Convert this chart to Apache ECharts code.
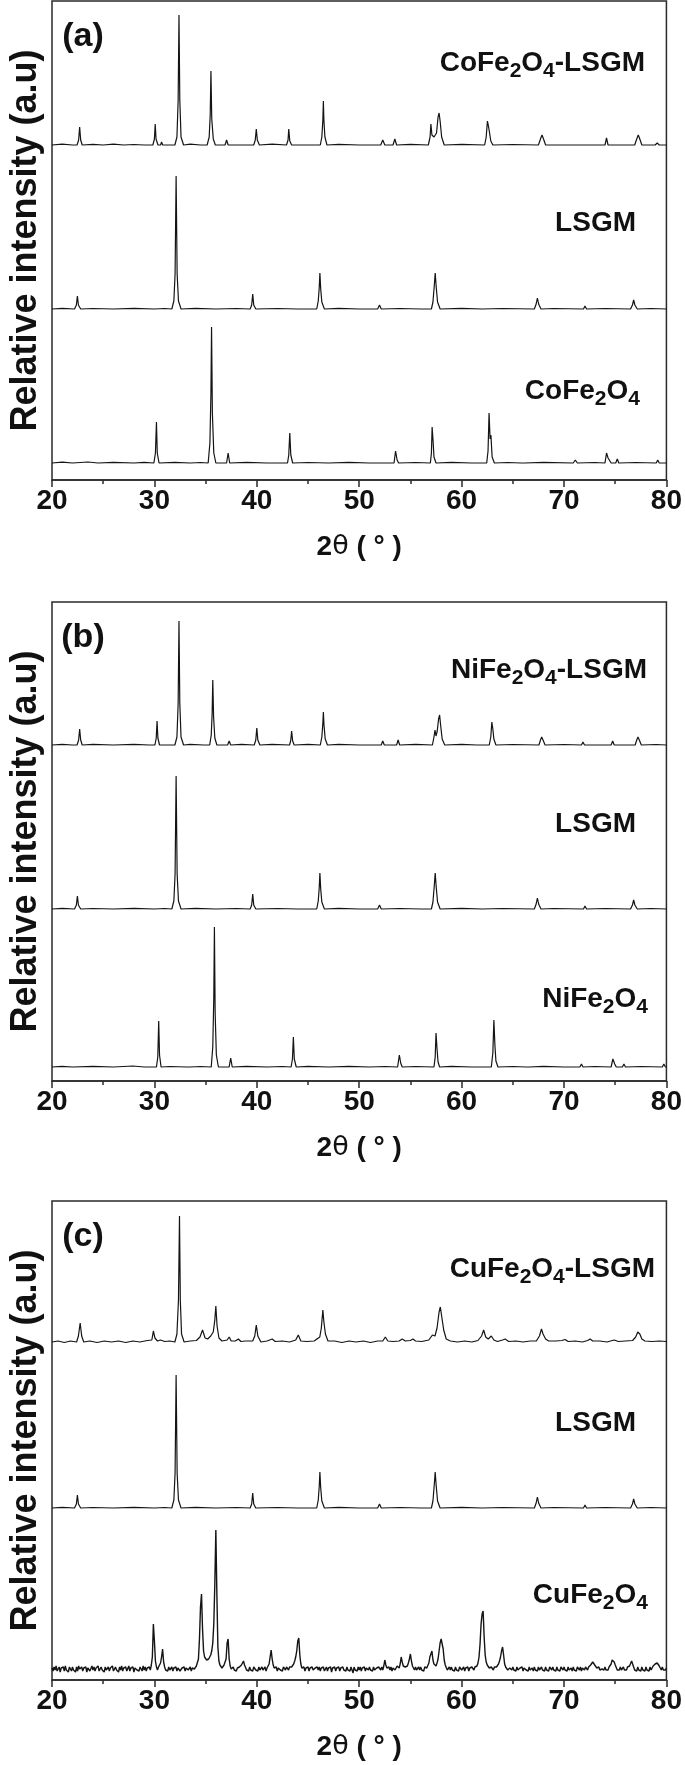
<!DOCTYPE html>
<html>
<head>
<meta charset="utf-8">
<script src="https://cdn.jsdelivr.net/npm/echarts@6/dist/echarts.min.js"></script>
<style>
html,body{margin:0;padding:0;background:#fff;}
#chart{width:685px;height:1765px;}
</style>
</head>
<body>
<div id="chart"></div>
<script>
// ---------- DATA (2θ in degrees, intensity in a.u. above each trace's own baseline) ----------
const xTicks = [20, 30, 40, 50, 60, 70, 80];
const panelTags = ['(a)', '(b)', '(c)'];

const CoFe2O4_LSGM = [
[20,0],[21,0.8],[22,0],[22.45,0],[22.6,5],[22.7,18],[22.8,5],[22.95,0],
[24,0.6],[25,0],[26,0.8],[27,0],[28,0.5],[29,0],
[29.85,0],[30.0,6],[30.08,21],[30.16,6],[30.35,0],
[30.6,0],[30.7,3],[30.8,0],
[32.0,0],[32.2,8],[32.32,45],[32.4,130],[32.48,45],[32.6,8],[32.85,0],
[33.5,0.8],[34.5,0],
[35.15,0],[35.35,8],[35.45,30],[35.52,74],[35.6,26],[35.75,6],[35.95,0],
[36.9,0],[37.05,5],[37.2,0],
[37.8,0],[37.9,2],[38.0,0],
[39.7,0],[39.85,5],[39.95,16],[40.05,5],[40.25,0],
[41.5,0.8],
[42.9,0],[43.05,5],[43.12,16],[43.22,4],[43.4,0],
[46.2,0],[46.35,8],[46.45,25],[46.5,44],[46.55,25],[46.65,8],[46.85,0],
[48,0.6],[50,0],
[52.1,0],[52.3,5],[52.5,0],
[53.3,0],[53.48,6],[53.65,0],
[55,0.6],
[56.75,0],[56.92,8],[57.0,21],[57.1,10],[57.3,8],[57.55,12],[57.7,28],[57.8,32],[57.9,24],[58.05,8],[58.3,0],
[60,0.6],
[62.25,0],[62.4,8],[62.52,24],[62.6,20],[62.7,14],[62.85,4],[63.05,0],
[65,0.5],
[67.5,0],[67.7,6],[67.85,10],[68.0,6],[68.2,0],
[70.8,0],[70.9,1.5],[71.0,0],
[72.5,0],[72.6,2],[72.75,0],
[74.0,0],[74.15,7],[74.3,0],
[74.9,0],[75.05,2],[75.2,0],
[76.9,0],[77.1,6],[77.25,10],[77.4,6],[77.6,0],
[78.9,0],[79.1,2],[79.3,0],[80,0]
];

const LSGM = [
[20,0],[21,0.6],[22.2,0],[22.38,4],[22.48,13],[22.58,4],[22.8,0],
[24,0.5],[26,0],[28,0.6],[30,0],[31,0.5],
[31.7,0],[31.9,8],[32.02,35],[32.12,133],[32.22,35],[32.35,8],[32.6,0],
[34,0.6],[36,0],[38,0.5],
[39.35,0],[39.5,4],[39.6,15],[39.7,4],[39.9,0],
[42,0.5],[44,0],
[45.85,0],[46.0,8],[46.1,22],[46.16,36],[46.24,20],[46.35,7],[46.6,0],
[48,0.6],[50,0],
[51.8,0],[51.98,4],[52.15,0],
[54,0.5],[56,0],
[57.05,0],[57.2,7],[57.32,22],[57.42,36],[57.52,22],[57.65,7],[57.9,0],
[60,0.6],[62,0],[64,0.5],
[67.1,0],[67.28,5],[67.4,11],[67.52,5],[67.75,0],
[69,0.5],
[71.9,0],[72.05,3],[72.2,0],
[74,0.5],
[76.5,0],[76.68,4],[76.8,9],[76.92,4],[77.15,0],
[78.5,0.5],[80,0]
];

const CoFe2O4 = [
[20,0],[21,0.8],[22,0],[23.5,1],[24.5,0],[26,0.7],[28,0],[29,0.6],
[29.95,0],[30.1,10],[30.2,41],[30.28,10],[30.45,0],
[32,0.6],[33.5,0],[34.5,0.5],
[35.25,0],[35.42,20],[35.52,70],[35.58,136],[35.66,50],[35.8,10],[36.0,0],
[37.05,0],[37.2,10],[37.35,0],
[39,0.6],[41,0],
[43.0,0],[43.12,8],[43.22,30],[43.32,8],[43.5,0],
[45,0.5],[47,0],[49,0.7],[51,0],
[53.4,0],[53.55,12],[53.7,3],[53.85,0],
[55.5,0.5],
[56.95,0],[57.05,10],[57.12,36],[57.22,21],[57.3,6],[57.5,0],
[59,0.6],[61,0],
[62.45,0],[62.58,12],[62.68,50],[62.78,24],[62.86,28],[62.98,6],[63.2,0],
[64.5,0.5],
[65.8,0],[65.95,2],[66.1,0],
[68,0.6],
[70.9,0],[71.1,3],[71.3,0],
[73,0.5],
[74.0,0],[74.15,10],[74.3,5],[74.42,6],[74.6,0],
[75.05,0],[75.2,4],[75.35,0],
[77,0.5],
[79.0,0],[79.15,3],[79.3,0],[80,0]
];

const NiFe2O4_LSGM = [
[20,0],[21,0.7],[22,0],[22.45,0],[22.6,5],[22.7,16],[22.8,5],[22.95,0],
[24,0.6],[26,0],[28,0.6],[29.5,0],
[30.05,0],[30.18,7],[30.26,24],[30.34,7],[30.5,0],
[32.0,0],[32.2,8],[32.32,42],[32.4,124],[32.48,42],[32.6,8],[32.85,0],
[33.5,0.7],[34.8,0],
[35.4,0],[35.55,10],[35.64,32],[35.7,65],[35.78,28],[35.9,7],[36.1,0],
[37.15,0],[37.3,4],[37.45,0],
[38.5,0.6],
[39.75,0],[39.9,5],[40.0,17],[40.1,5],[40.3,0],
[41.5,0.6],
[43.2,0],[43.32,5],[43.4,14],[43.5,4],[43.65,0],
[45,0.6],
[46.2,0],[46.35,8],[46.45,22],[46.5,33],[46.56,20],[46.68,6],[46.9,0],
[48,0.6],[50,0],
[52.15,0],[52.3,4],[52.45,0],
[53.65,0],[53.8,5],[53.95,0],
[55.5,0.6],
[57.15,0],[57.3,8],[57.4,15],[57.5,9],[57.62,14],[57.75,26],[57.85,30],[57.95,20],[58.1,6],[58.35,0],
[60,0.6],[61.5,0],
[62.7,0],[62.85,8],[62.95,23],[63.05,16],[63.15,6],[63.35,0],
[65,0.5],
[67.55,0],[67.7,5],[67.82,8],[67.95,5],[68.15,0],
[70,0.5],
[71.7,0],[71.85,3],[72.0,0],
[72.3,0],[72.45,2],[72.6,0],
[74.6,0],[74.75,4],[74.9,0],
[75.4,0],[75.55,2],[75.7,0],
[76.95,0],[77.1,5],[77.22,8],[77.35,5],[77.55,0],
[79,0.5],[80,0]
];

const NiFe2O4 = [
[20,0],[21,0.6],[22,0],[24,0.7],[26,0],[27.9,1],[29,0],
[30.2,0],[30.33,10],[30.42,46],[30.5,12],[30.65,0],
[31.5,0.5],
[33.15,0],[33.3,1.5],[33.45,0],
[34.5,0.5],
[35.55,0],[35.7,20],[35.8,70],[35.86,140],[35.93,55],[36.05,12],[36.25,0],
[37.3,0],[37.45,9],[37.6,0],
[39,0.6],[41,0],[42.5,0.5],
[43.35,0],[43.48,8],[43.57,30],[43.66,8],[43.85,0],
[45,0.6],[47,0],[49,0.7],[51,0],[52.5,0.5],
[53.75,0],[53.92,12],[54.05,4],[54.2,0],
[55.5,0.5],
[57.3,0],[57.42,10],[57.5,34],[57.6,18],[57.7,5],[57.85,0],
[59,0.6],[61,0],
[62.9,0],[63.05,14],[63.15,47],[63.25,22],[63.35,6],[63.55,0],
[65,0.5],
[66.3,0],[66.45,1],[66.6,0],
[68,0.6],[70,0],
[71.55,0],[71.7,3],[71.85,0],
[73,0.5],
[74.6,0],[74.77,8],[74.95,3],[75.1,0],
[75.7,0],[75.85,3],[76.0,0],
[77.5,0.5],
[79.6,0],[79.75,3],[79.9,0],[80,0]
];

const CuFe2O4_LSGM = [
[20,0],[20.6,1],[21.2,-0.5],[21.8,1],[22.4,0],[22.58,6],[22.75,19],[22.9,6],[23.1,0],
[23.7,1],[24.4,-0.5],[25.1,1],[25.8,0],[26.5,1],[27.2,-0.5],[27.9,1],[28.6,0],[29.3,1.5],
[29.75,2],[29.9,11],[30.05,4],[30.3,1],[30.6,2],[31.0,0.5],[31.5,1],
[32.0,0],[32.2,8],[32.35,42],[32.45,126],[32.53,42],[32.65,8],[32.9,0],
[33.5,1],[34.1,1.5],[34.45,5],[34.7,12],[34.95,4],[35.2,3],[35.5,6],[35.75,10],
[35.9,22],[36.0,36],[36.12,16],[36.3,4],[36.6,1],[37.1,2],[37.3,5],[37.5,1],[37.9,1],[38.2,3],[38.45,0.5],
[38.9,1],[39.6,1],[39.8,6],[39.95,17],[40.1,6],[40.4,0],
[41.0,1],[41.5,3],[41.8,0.5],[42.5,1],[43.2,0],[43.8,2],[44.05,7],[44.3,1],[44.9,0.5],
[45.6,1],[46.15,5],[46.3,14],[46.45,32],[46.55,20],[46.7,8],[46.95,1],
[47.6,1],[48.3,-0.5],[49.0,1],[49.7,0],[50.4,1],[51.1,-0.5],[51.8,1],[52.3,1],[52.55,5],[52.8,1],
[53.3,0.5],[53.9,1],[54.2,3],[54.5,1],[55.0,1.5],[55.25,3],[55.5,1],[56.1,0.5],
[56.8,2],[57.15,7],[57.4,6],[57.6,14],[57.8,30],[57.92,35],[58.05,26],[58.25,12],[58.5,3],[58.9,1],
[59.6,0],[60.3,1],[61.0,0],[61.6,1.5],[61.95,6],[62.15,12],[62.35,5],[62.6,3],[62.9,6],[63.15,2],[63.5,0.5],
[64.0,2],[64.25,3],[64.6,0.5],[65.3,1],[66.0,0],[66.7,1],
[67.3,1],[67.6,6],[67.8,13],[67.95,8],[68.2,3],[68.5,1],
[69.2,1],[69.8,1.5],[70.1,2.5],[70.4,0.5],[71.1,1],[71.8,0],[72.3,1.5],[72.55,3],[72.8,1],
[73.5,1],[74.2,0],[74.9,2],[75.3,0.5],[76.0,1],[76.7,1.5],
[77.0,5],[77.2,10],[77.4,8],[77.6,3],[77.9,1],[78.6,0.5],[79.3,1],[80,0.5]
];

// CuFe2O4: noisy scan, one value every 0.1° from 20.0° to 80.0° (one row per degree)
const CuFe2O4_start = 20, CuFe2O4_step = 0.1;
const CuFe2O4 = [
 1,-2, 2,-1, 3,-2, 0, 2,-3, 1,   // 20
-1, 2,-2, 3,-1, 1,-3, 2, 0,-2,   // 21
 2,-1, 1,-3, 2,-2, 3, 0,-1, 2,   // 22
-2, 1,-1, 2,-3, 1, 2,-2, 0, 3,   // 23
-1, 2,-2, 1,-1, 3,-2, 0, 2,-1,   // 24
 1,-3, 2,-1, 0, 2,-2, 1,-1, 3,   // 25
-2, 0, 2,-1, 1,-3, 2,-1, 3,-2,   // 26
 1,-1, 2,-2, 0, 3,-2, 1,-1, 2,   // 27
-3, 1, 2,-1, 0,-2, 2, 1,-2, 3,   // 28
-1, 2,-2, 1, 0, 2,-1, 4,12,45,   // 29
28, 8, 2,-1, 2, 3, 6,12,20, 7,   // 30
 2,-1, 1,-2, 2,-1, 0, 2,-2, 1,   // 31
-1, 2,-2, 1, 3,-2, 0, 1,-1, 2,   // 32
-2, 1, 2,-1, 0, 2,-2, 1, 3, 0,   // 33
 2, 3, 5,10,30,62,75,40,18,12,   // 34
10, 9, 9,10,12,14,18,26,45,85,   // 35
139,75,22, 8, 4, 2, 1, 2, 4, 6,  // 36
10,26,30,10, 3, 0,-1, 2,-1, 1,   // 37
-2, 1,-1, 2, 1, 4, 6, 8, 4, 2,   // 38
-1, 1,-2, 2,-1, 1,-2, 2, 0,-1,   // 39
 1,-2, 2,-1, 1, 2,-1, 0, 2,-2,   // 40
 1, 3, 5,12,19,10, 4, 1,-1, 2,   // 41
-2, 1, 2,-1, 1,-2, 2, 0,-1, 2,   // 42
 1,-1, 2, 0, 2, 3, 5, 8,12,18,   // 43
28,31,14, 5, 1,-1, 2,-2, 1,-1,   // 44
 2,-2, 1,-1, 2,-1,-2, 1,-1, 2,   // 45
-1, 2,-2, 1,-1, 2,-2, 0, 2,-2,   // 46
 1,-1, 2,-3, 1,-1, 2,-2, 1,-1,   // 47
 2,-2, 1,-1, 2,-1, 1,-2, 2,-1,   // 48
 1,-2, 2,-1,-4, 2,-1, 1,-2, 2,   // 49
-1, 2,-2, 1,-1, 2,-2, 1, 0,-1,   // 50
 2,-1, 1,-2, 2,-1,-2, 1,-1, 2,   // 51
 1,-1, 2,-1, 3, 9, 4, 1,-1, 2,   // 52
-1, 2,-2, 1, 2,-1, 0, 3, 2, 1,   // 53
 5,12, 7, 3, 1, 2, 1, 3, 6,10,   // 54
15, 8, 3, 1,-1, 2,-1, 1, 2,-1,   // 55
 2,-1, 1,-2, 2, 0, 1, 3, 6,12,   // 56
15,18, 9, 5, 4, 3, 6,10,18,26,   // 57
30,32,20, 9, 4, 2,-1, 1, 2,-1,   // 58
 2,-1, 1,-2, 2,-1, 1,-2, 2, 0,   // 59
-1, 1, 2,-2, 1,-1, 2,-2, 1,-1,   // 60
 2, 1,-1, 2, 1, 3, 6,12,25,45,   // 61
55,58,32,14, 7, 4, 2, 1,-1, 2,   // 62
 1,-1, 2, 0, 2, 3, 5, 8,12,18,   // 63
22,14, 5, 2, 1,-1,-2, 1, 2,-1,   // 64
 2,-1, 1,-2, 2,-1, 0, 1,-1, 2,   // 65
-2, 1, 2,-1, 1,-2, 2,-1, 0, 1,   // 66
-2, 2,-1, 1,-2, 2,-1, 0, 2,-1,   // 67
 1,-2, 2,-1, 1,-2, 2, 0,-1, 2,   // 68
-1, 1,-2, 2,-1, 1,-2, 2, 0,-1,   // 69
 2,-1, 1,-2, 2,-1, 0, 1,-2, 2,   // 70
-1, 1,-2, 2, 1,-1, 2,-2, 1,-1,   // 71
-1, 2, 1,-1, 2, 3, 4, 6, 7, 5,   // 72
 4, 3, 1,-1, 2,-1, 1, 0, 2,-1,   // 73
 2,-1, 1,-1, 2, 3, 5, 9,11, 7,   // 74
 4, 2,-1, 1,-1, 2,-1, 0, 2,-1,   // 75
 1,-1, 2, 1, 3, 5, 8, 5, 2,-1,   // 76
 1,-2, 2,-1, 1,-2, 2,-1, 1,-2,   // 77
 2,-1, 1,-2, 2,-1, 1, 3, 4, 5,   // 78
 7, 6, 4, 3, 1,-1, 2,-1, 1,-1,   // 79
 1                               // 80
];

// which trace goes in which panel, top to bottom
const CuFe2O4_pairs = CuFe2O4.map((v, i) => [+(CuFe2O4_start + i * CuFe2O4_step).toFixed(1), v]);
const panelTraces = [
  [CoFe2O4_LSGM, LSGM, CoFe2O4],
  [NiFe2O4_LSGM, LSGM, NiFe2O4],
  [CuFe2O4_LSGM, LSGM, CuFe2O4_pairs]
];
// sample names as rich-text strings (subscripts)
const panelNames = [
  ['{m|CoFe}{s|2}{m|O}{s|4}{m|-LSGM}', '{m|LSGM}', '{m|CoFe}{s|2}{m|O}{s|4}'],
  ['{m|NiFe}{s|2}{m|O}{s|4}{m|-LSGM}', '{m|LSGM}', '{m|NiFe}{s|2}{m|O}{s|4}'],
  ['{m|CuFe}{s|2}{m|O}{s|4}{m|-LSGM}', '{m|LSGM}', '{m|CuFe}{s|2}{m|O}{s|4}']
];

// ---------- LAYOUT ----------
const W = 685;
const FONT = '"Liberation Sans", Arial, Helvetica, sans-serif';
const gridTops = [1, 602, 1201];
const gridH = 479;
const gridLeft = 46, gridRight = 9;
const stackOffsets = [[335, 171, 17], [336, 172, 14], [338, 172, 11]];
const nameRight = [[645, 636, 640], [647, 636, 648], [655, 636, 648]];
const nameDy = [[62, 222, 390], [68, 222, 397], [68, 222, 394]];
const traceWidth = [[1.2, 1.2, 1.2], [1.2, 1.2, 1.2], [1.2, 1.2, 1.4]];

const chart = echarts.init(document.getElementById('chart'), null, {renderer: 'canvas', width: W, height: 1765});

const grids = [], xAxes = [], yAxes = [], series = [], graphics = [];
for (let p = 0; p < 3; p++) {
  grids.push({left: gridLeft, right: gridRight, top: gridTops[p], height: gridH, show: true,
    borderColor: '#2a2a2a', borderWidth: 1.5, backgroundColor: 'transparent', containLabel: false});
  xAxes.push({
    gridIndex: p, type: 'value', min: xTicks[0], max: xTicks[xTicks.length - 1], interval: 10,
    name: '{b|2}{t|θ}{b| ( ° )}', nameLocation: 'middle', nameGap: 53,
    nameTextStyle: {fontFamily: FONT, fontWeight: 'bold', fontSize: 28, color: '#111',
      rich: {
        b: {fontFamily: FONT, fontWeight: 'bold', fontSize: 28, color: '#111'},
        t: {fontFamily: '"DejaVu Sans", ' + FONT, fontWeight: 'normal', fontSize: 27, color: '#111'}
      }},
    axisLine: {show: true, onZero: false, lineStyle: {color: '#2a2a2a', width: 1.5}},
    axisTick: {show: true, inside: false, length: 7, lineStyle: {color: '#2a2a2a', width: 1.5}},
    minorTick: {show: true, splitNumber: 2, length: 4, lineStyle: {color: '#2a2a2a', width: 1.5}},
    axisLabel: {fontFamily: FONT, fontWeight: 'bold', fontSize: 28, color: '#111', margin: 7},
    splitLine: {show: false}, minorSplitLine: {show: false}
  });
  yAxes.push({
    gridIndex: p, type: 'value', min: 0, max: gridH,
    name: 'Relative intensity (a.u)', nameLocation: 'middle', nameGap: 8, nameRotate: 90,
    nameTextStyle: {fontFamily: FONT, fontWeight: 'bold', fontSize: 36, color: '#111'},
    axisLine: {show: false}, axisTick: {show: false}, axisLabel: {show: false}, splitLine: {show: false}
  });
  panelTraces[p].forEach((tr, k) => {
    const off = stackOffsets[p][k];
    series.push({
      type: 'line', xAxisIndex: p, yAxisIndex: p, showSymbol: false, symbol: 'none',
      animation: false, silent: true, sampling: null,
      lineStyle: {color: '#141414', width: traceWidth[p][k]},
      data: tr.map(d => [d[0], d[1] + off])
    });
    graphics.push({
      type: 'text', silent: true,
      style: {
        text: panelNames[p][k], x: nameRight[p][k], y: gridTops[p] + nameDy[p][k],
        align: 'right', verticalAlign: 'middle', textAlign: 'right', textVerticalAlign: 'middle',
        fill: '#111',
        rich: {
          m: {fontFamily: FONT, fontWeight: 'bold', fontSize: 28, lineHeight: 38, verticalAlign: 'middle', fill: '#111'},
          s: {fontFamily: FONT, fontWeight: 'bold', fontSize: 21, lineHeight: 18, verticalAlign: 'bottom', fill: '#111'}
        }
      }
    });
  });
  graphics.push({
    type: 'text', silent: true,
    style: {text: panelTags[p], x: 83, y: gridTops[p] + 36, align: 'center', verticalAlign: 'middle',
      textAlign: 'center', textVerticalAlign: 'middle',
      font: 'bold 34px ' + FONT, fill: '#111'}
  });
}

chart.setOption({
  animation: false,
  backgroundColor: '#fff',
  grid: grids, xAxis: xAxes, yAxis: yAxes, series: series, graphic: graphics
});
</script>
</body>
</html>
